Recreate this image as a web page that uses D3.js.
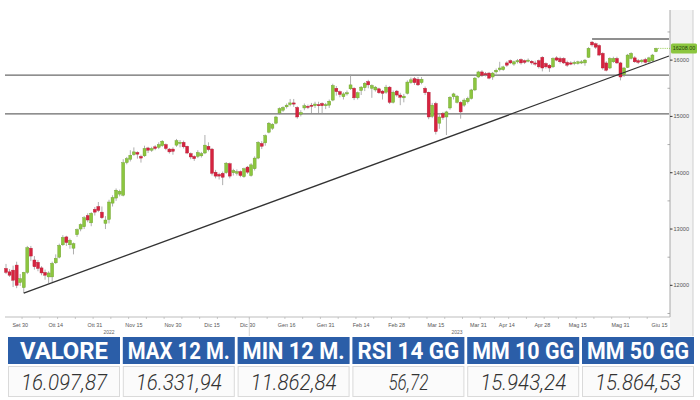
<!DOCTYPE html>
<html><head><meta charset="utf-8">
<script src="https://cdn.jsdelivr.net/npm/d3@7"></script>
<style>body{margin:0;background:#fff}svg{display:block}</style>
</head><body><svg id="c" width="700" height="400"></svg>
<script>
const dates = [
"2022-09-26","2022-09-27","2022-09-28","2022-09-29","2022-09-30",
"2022-10-03","2022-10-04","2022-10-05","2022-10-06","2022-10-07","2022-10-10","2022-10-11","2022-10-12","2022-10-13","2022-10-14",
"2022-10-17","2022-10-18","2022-10-19","2022-10-20","2022-10-21","2022-10-24","2022-10-25","2022-10-26","2022-10-27","2022-10-28","2022-10-31",
"2022-11-01","2022-11-02","2022-11-03","2022-11-04","2022-11-07","2022-11-08","2022-11-09","2022-11-10","2022-11-11","2022-11-14","2022-11-15",
"2022-11-16","2022-11-17","2022-11-18","2022-11-21","2022-11-22","2022-11-23","2022-11-24","2022-11-25","2022-11-28","2022-11-29","2022-11-30",
"2022-12-01","2022-12-02","2022-12-05","2022-12-06","2022-12-07","2022-12-08","2022-12-09","2022-12-12","2022-12-13","2022-12-14","2022-12-15",
"2022-12-16","2022-12-19","2022-12-20","2022-12-21","2022-12-22","2022-12-23","2022-12-27","2022-12-28","2022-12-29","2022-12-30",
"2023-01-02","2023-01-03","2023-01-04","2023-01-05","2023-01-06","2023-01-09","2023-01-10","2023-01-11","2023-01-12","2023-01-13","2023-01-16",
"2023-01-17","2023-01-18","2023-01-19","2023-01-20","2023-01-23","2023-01-24","2023-01-25","2023-01-26","2023-01-27","2023-01-30","2023-01-31",
"2023-02-01","2023-02-02","2023-02-03","2023-02-06","2023-02-07","2023-02-08","2023-02-09","2023-02-10","2023-02-13","2023-02-14","2023-02-15",
"2023-02-16","2023-02-17","2023-02-20","2023-02-21","2023-02-22","2023-02-23","2023-02-24","2023-02-27","2023-02-28",
"2023-03-01","2023-03-02","2023-03-03","2023-03-06","2023-03-07","2023-03-08","2023-03-09","2023-03-10","2023-03-13","2023-03-14","2023-03-15",
"2023-03-16","2023-03-17","2023-03-20","2023-03-21","2023-03-22","2023-03-23","2023-03-24","2023-03-27","2023-03-28","2023-03-29","2023-03-30","2023-03-31",
"2023-04-03","2023-04-04","2023-04-05","2023-04-06","2023-04-11","2023-04-12","2023-04-13","2023-04-14","2023-04-17","2023-04-18","2023-04-19",
"2023-04-20","2023-04-21","2023-04-24","2023-04-25","2023-04-26","2023-04-27","2023-04-28",
"2023-05-02","2023-05-03","2023-05-04","2023-05-05","2023-05-08","2023-05-09","2023-05-10","2023-05-11","2023-05-12","2023-05-15","2023-05-16",
"2023-05-17","2023-05-18","2023-05-19","2023-05-22","2023-05-23","2023-05-24","2023-05-25","2023-05-26","2023-05-29","2023-05-30","2023-05-31",
"2023-06-01","2023-06-02","2023-06-05","2023-06-06","2023-06-07","2023-06-08","2023-06-09","2023-06-12","2023-06-13","2023-06-14"];

const opens = [12300,12240,12270,12360,12050,
11960,12230,12660,12450,12410,12310,12230,12150,12150,12400,
12500,12720,12860,12720,12660,12900,13000,13040,13240,13110,13350,
13400,13300,13100,13170,13460,13550,13620,13600,14180,14240,14320,
14360,14290,14300,14440,14400,14460,14450,14480,14500,14420,14420,
14490,14520,14540,14470,14340,14290,14290,14300,14350,14470,14420,
14010,13970,13990,14000,14160,14000,13990,14020,13930,14100,
13950,14070,14260,14520,14530,14720,14790,14880,15060,15110,15170,
15210,15240,15160,15040,15150,15180,15200,15190,15210,15230,15190,
15200,15290,15500,15440,15350,15400,15490,15500,15330,15460,15510,
15620,15500,15470,15490,15450,15430,15520,15250,15450,
15380,15330,15410,15600,15670,15660,15600,15500,15430,15000,15230,
14880,15050,14990,15150,15350,15250,15250,15200,15260,15320,15470,15700,
15790,15760,15770,15700,15790,15830,15830,15950,15990,15930,15980,
16010,15990,15990,15980,15950,15990,16050,
15940,15910,15880,16040,16030,16030,15960,15950,15940,15940,15960,
15950,16050,16320,16290,16260,16120,15950,15860,15970,16030,15950,
15740,15870,16030,16040,15990,15970,16010,15970,15990,16150];

const highs = [12380,12290,12350,12420,12200,
12240,12700,12700,12520,12450,12340,12280,12250,12420,12550,
12740,12890,12880,12830,12760,13010,13100,13230,13280,13300,13390,
13480,13400,13230,13520,13600,13720,13700,14240,14280,14400,14450,
14380,14320,14480,14460,14460,14490,14540,14580,14520,14440,14450,
14600,14580,14570,14480,14360,14310,14400,14370,14670,14540,14440,
14050,14000,14020,14190,14180,14070,14060,14040,14090,14120,
14170,14290,14560,14560,14680,14900,14880,15010,15160,15180,15230,
15310,15310,15180,15110,15230,15210,15240,15260,15260,15250,15240,
15300,15580,15540,15460,15430,15460,15740,15520,15440,15540,15610,
15650,15570,15540,15510,15470,15560,15540,15460,15470,
15420,15400,15640,15690,15700,15700,15700,15530,15440,15240,15260,
15030,15080,15100,15360,15420,15380,15270,15320,15350,15490,15700,15810,
15820,15790,15790,15790,15850,15970,15900,15980,16010,15990,16020,
16030,16010,16030,16000,15990,16010,16070,
15960,15930,16050,16070,16060,16050,15990,15980,15990,15990,16000,
16020,16230,16340,16310,16280,16140,15980,16050,16060,16060,15970,
15880,16110,16140,16070,16020,16020,16040,16060,16110,16220];

const lows = [12200,12150,11970,11950,11990,
11862,12200,12430,12280,12250,12180,12100,12040,12060,12380,
12480,12700,12700,12650,12550,12860,12960,13000,13120,13050,13240,
13300,13180,13000,13100,13400,13500,13580,13580,14150,14200,14300,
14250,14180,14280,14350,14370,14400,14420,14460,14400,14340,14320,
14460,14450,14430,14330,14240,14210,14260,14270,14330,14380,13950,
13900,13880,13780,13980,13900,13950,13950,13920,13910,13980,
13930,14040,14240,14420,14480,14700,14760,14860,15030,15080,15140,
15180,15170,14960,15000,15110,15130,15060,15150,15060,15050,15130,
15150,15270,15370,15340,15300,15370,15470,15290,15300,15380,15450,
15500,15330,15440,15400,15300,15400,15220,15230,15350,
15200,15250,15390,15580,15560,15540,15570,15380,14950,14970,14680,
14780,14940,14670,15120,15300,15230,14960,15170,15230,15300,15450,15680,
15700,15710,15660,15650,15760,15800,15810,15880,15930,15900,15940,
15920,15930,15960,15920,15900,15850,15800,
15850,15790,15860,15980,15940,15930,15880,15910,15910,15920,15930,
15900,16040,16240,16200,16070,15830,15800,15840,15950,15930,15640,
15700,15860,16010,15950,15930,15940,15940,15950,15970,16140];

const closes = [12230,12180,12090,12000,12120,
12230,12670,12520,12330,12300,12220,12180,12220,12390,12480,
12710,12850,12760,12800,12740,12990,13080,13200,13160,13280,13300,
13330,13200,13160,13480,13560,13690,13670,14180,14250,14310,14370,
14330,14260,14430,14400,14430,14430,14500,14560,14430,14370,14380,
14570,14540,14460,14350,14280,14250,14360,14340,14490,14410,13990,
13940,13940,13920,14170,13940,14040,14020,13950,14070,14010,
14140,14260,14540,14470,14660,14880,14860,14990,15140,15160,15200,
15240,15220,14990,15070,15190,15170,15190,15220,15200,15190,15210,
15270,15550,15440,15390,15400,15420,15560,15330,15420,15520,15590,
15560,15550,15520,15420,15410,15520,15250,15430,15380,
15340,15360,15610,15650,15600,15560,15660,15420,14990,15200,14730,
14990,14980,15080,15340,15400,15360,15080,15290,15320,15470,15680,15790,
15730,15740,15680,15770,15820,15860,15880,15910,15950,15970,15990,
15950,15960,16000,15950,15940,15880,15860,
15880,15860,16030,16000,15970,15950,15910,15940,15960,15970,15970,
16000,16210,16270,16230,16090,15860,15820,16030,16030,15950,15700,
15860,16090,16120,15970,15960,16000,15960,16040,16090,16208];

const levels = [15734, 15045];
const peakLevel = 16375;
const peakLevelFrom = "2023-05-19";
const trendStart = ["2022-10-03", 11862];
const trendEnd = ["2023-06-14", 15988];

const tickDates = ["2022-09-30","2022-10-14","2022-10-31","2022-11-15","2022-11-30","2022-12-15","2022-12-30",
"2023-01-16","2023-01-31","2023-02-14","2023-02-28","2023-03-15","2023-03-31","2023-04-14","2023-04-28","2023-05-15","2023-05-31","2023-06-15"];
const tickLabels = ["Set 30","Ott 14","Ott 31","Nov 15","Nov 30","Dic 15","Dic 30","Gen 16","Gen 31","Feb 14","Feb 28","Mar 15","Mar 31","Apr 14","Apr 28","Mag 15","Mag 31","Giu 15"];
const yTicks = [12000,13000,14000,15000,16000];
const yMinorTicks = [11500,12500,13500,14500,15500,16500];
const yearLabels = ["2022","2023"];
const yearLabelDates = ["2022-11-04","2023-03-23"];

const headers = ["VALORE","MAX 12 M.","MIN 12 M.","RSI 14 GG","MM 10 GG","MM 50 GG"];
const values = ["16.097,87","16.331,94","11.862,84","56,72","15.943,24","15.864,53"];

const svg = d3.select("#c");
const idx = d => d3.bisectLeft(dates, d);
const x = d3.scaleLinear().domain([0, dates.length - 1]).range([6, 656]);
const y = d3.scaleLinear().domain([11420, 16890]).range([318, 10]);
const plotL = 5, plotR = 670, plotT = 10, plotB = 317;

// right panel
svg.append("rect").attr("x", plotR).attr("y", plotT).attr("width", 23).attr("height", 326 - plotT + 10)
  .attr("fill", "#f3f3f3");
svg.append("line").attr("x1", 693).attr("x2", 693).attr("y1", plotT).attr("y2", 336).attr("stroke", "#cfcfcf");

// level lines
levels.forEach(v => {
  svg.append("line").attr("x1", plotL).attr("x2", plotR - 1).attr("y1", y(v)).attr("y2", y(v))
    .attr("stroke", "#6a6a6a").attr("stroke-width", 1.3);
});
svg.append("line").attr("x1", x(idx(peakLevelFrom))).attr("x2", plotR - 1)
  .attr("y1", y(peakLevel)).attr("y2", y(peakLevel)).attr("stroke", "#6a6a6a").attr("stroke-width", 1.3);

// candles
const data = dates.map((d, i) => ({d, i, o: opens[i], h: highs[i], l: lows[i], c: closes[i]}));
const g = svg.append("g");
g.selectAll("line.w").data(data).join("line")
  .attr("x1", d => x(d.i)).attr("x2", d => x(d.i))
  .attr("y1", d => y(d.h)).attr("y2", d => y(d.l))
  .attr("stroke", "#9a9a9a").attr("stroke-width", 0.8);
const bw = 3.0;
g.selectAll("rect.b").data(data).join("rect")
  .attr("x", d => x(d.i) - bw / 2)
  .attr("y", d => y(Math.max(d.o, d.c)))
  .attr("width", bw)
  .attr("height", d => Math.max(1.2, Math.abs(y(d.o) - y(d.c))))
  .attr("fill", d => d.c >= d.o ? "#8cc63f" : "#d6233f")
  .attr("stroke", d => d.c >= d.o ? "#6b9e2c" : "#b51c35")
  .attr("stroke-width", 0.4);

// trend line extended to right edge
{
  const x1 = x(idx(trendStart[0])), y1 = y(trendStart[1]);
  const x2 = x(idx(trendEnd[0])), y2 = y(trendEnd[1]);
  const xe = plotR - 1;
  const ye = y1 + (y2 - y1) * (xe - x1) / (x2 - x1);
  svg.append("line").attr("x1", x1).attr("y1", y1).attr("x2", xe).attr("y2", ye)
    .attr("stroke", "#333").attr("stroke-width", 1.3);
}

// right axis
svg.append("line").attr("x1", plotR).attr("x2", plotR).attr("y1", plotT).attr("y2", plotB)
  .attr("stroke", "#a8a8a8").attr("stroke-width", 1);
yTicks.forEach(v => {
  svg.append("line").attr("x1", plotR).attr("x2", plotR + 2.5).attr("y1", y(v)).attr("y2", y(v))
    .attr("stroke", "#333").attr("stroke-width", 1);
  svg.append("text").attr("x", plotR + 3.5).attr("y", y(v)).attr("dy", "0.35em")
    .attr("font-family", "Liberation Sans, Arial, sans-serif").attr("font-size", 5.6)
    .attr("fill", "#555").text(v);
});
yMinorTicks.forEach(v => {
  svg.append("line").attr("x1", plotR - 2.5).attr("x2", plotR).attr("y1", y(v)).attr("y2", y(v))
    .attr("stroke", "#999").attr("stroke-width", 0.8);
});

// last value label
{
  const last = data[data.length - 1];
  svg.append("line").attr("x1", x(last.i) + 2).attr("x2", plotR).attr("y1", y(last.c)).attr("y2", y(last.c))
    .attr("stroke", "#8cc63f").attr("stroke-width", 0.8).attr("stroke-dasharray", "1.2,1");
  svg.append("rect").attr("x", plotR + 1).attr("y", y(last.c) - 5).attr("width", 26).attr("height", 10)
    .attr("rx", 1.5).attr("fill", "#8cc63f");
  svg.append("text").attr("x", plotR + 14).attr("y", y(last.c)).attr("dy", "0.35em")
    .attr("text-anchor", "middle").attr("font-family", "Liberation Sans, Arial, sans-serif")
    .attr("font-size", 5.4).attr("fill", "#24400c").text(last.c.toFixed(2));
}

// bottom axis
svg.append("line").attr("x1", plotL).attr("x2", plotR).attr("y1", plotB).attr("y2", plotB)
  .attr("stroke", "#bdbdbd").attr("stroke-width", 1);
data.forEach((d, i) => {
  if (i > 0 && new Date(d.d).getUTCDay() < new Date(dates[i - 1]).getUTCDay()) {
    svg.append("line").attr("x1", x(i) - 1.7).attr("x2", x(i) - 1.7).attr("y1", plotB).attr("y2", plotB + 2)
      .attr("stroke", "#aaa").attr("stroke-width", 0.6);
  }
});
tickDates.forEach((d, k) => {
  const xi = x(idx(d));
  svg.append("text").attr("x", xi).attr("y", 326.5).attr("text-anchor", "middle")
    .attr("font-family", "Liberation Sans, Arial, sans-serif").attr("font-size", 5.4)
    .attr("fill", "#555").text(tickLabels[k]);
});
yearLabels.forEach((t, k) => {
  svg.append("text").attr("x", x(idx(yearLabelDates[k]))).attr("y", 334).attr("text-anchor", "middle")
    .attr("font-family", "Liberation Sans, Arial, sans-serif").attr("font-size", 5)
    .attr("fill", "#666").text(t);
});
{
  const xs = (x(idx("2022-12-30")) + x(idx("2023-01-02"))) / 2;
  svg.append("line").attr("x1", xs).attr("x2", xs).attr("y1", plotB).attr("y2", 336)
    .attr("stroke", "#c8c8c8").attr("stroke-width", 0.8);
}

// table
const cellW = 112, pitch = 114.8, cx0 = 8;
headers.forEach((h, k) => {
  const cx = cx0 + k * pitch;
  svg.append("rect").attr("x", cx).attr("y", 337).attr("width", cellW).attr("height", 27).attr("fill", "#2b5ea8");
  svg.append("text").attr("x", cx + cellW / 2).attr("y", 351).attr("dy", "0.36em").attr("text-anchor", "middle")
    .attr("font-family", "Roboto, sans-serif").attr("font-weight", 700).attr("font-size", 23.5)
    .attr("fill", "#fff").attr("textLength", h.length > 6 ? 102 : 88).attr("lengthAdjust", "spacingAndGlyphs").text(h);
  svg.append("rect").attr("x", cx + 0.5).attr("y", 366.5).attr("width", cellW - 1).attr("height", 30)
    .attr("fill", "#fbfbfb").attr("stroke", "#dadada").attr("stroke-width", 1);
  const v = values[k];
  svg.append("text").attr("x", cx + cellW / 2).attr("y", 382).attr("dy", "0.36em").attr("text-anchor", "middle")
    .attr("font-family", "Roboto, sans-serif").attr("font-weight", 300).attr("font-style", "italic")
    .attr("font-size", 22).attr("fill", "#333")
    .attr("textLength", v.length > 5 ? 86 : 40).attr("lengthAdjust", "spacingAndGlyphs").text(v);
});
</script></body></html>
